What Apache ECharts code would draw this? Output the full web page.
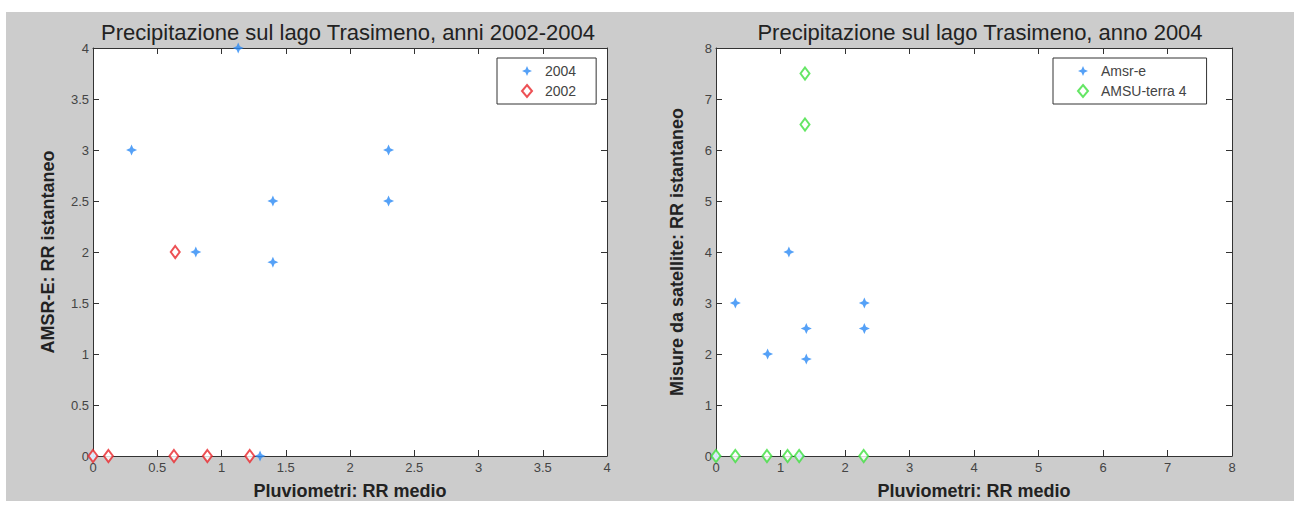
<!DOCTYPE html>
<html>
<head>
<meta charset="utf-8">
<script src="https://cdn.jsdelivr.net/npm/echarts@6/dist/echarts.min.js"></script>
<style>
html,body{margin:0;padding:0;background:#fff;width:1294px;height:507px;overflow:hidden;}
#bg{position:absolute;left:6px;top:12px;width:1288px;height:489px;background:#cccccc;}
#chart{position:absolute;left:0;top:0;width:1294px;height:507px;}
</style>
</head>
<body>
<div id="bg"></div>
<div id="chart"></div>
<script>
// Left panel: AMSR-E vs rain gauges
const leftTitle = 'Precipitazione sul lago Trasimeno, anni 2002-2004';
const leftYName = 'AMSR-E: RR istantaneo';
const xName = 'Pluviometri: RR medio';
const s2004 = [[0.3,3],[1.13,4],[2.3,3],[1.4,2.5],[2.3,2.5],[0.8,2],[1.4,1.9],[1.3,0],[0,0]];
const s2002 = [[0.64,2],[0,0],[0.12,0],[0.63,0],[0.89,0],[1.22,0]];
const leftXTicks = [0,0.5,1,1.5,2,2.5,3,3.5,4];

// Right panel: satellite measures, 2004
const rightTitle = 'Precipitazione sul lago Trasimeno, anno 2004';
const rightYName = 'Misure da satellite: RR istantaneo';
const sAmsr = [[0.3,3],[1.13,4],[2.3,3],[1.4,2.5],[2.3,2.5],[0.8,2],[1.4,1.9],[1.3,0],[0,0]];
const sAmsu = [[1.38,7.5],[1.38,6.5],[0,0],[0.3,0],[0.79,0],[1.11,0],[1.29,0],[2.29,0]];
const rightXTicks = [0,1,2,3,4,5,6,7,8];

const chart = echarts.init(document.getElementById('chart'), null, {renderer:'svg'});
const BLUE = '#2a8af5', RED = '#e8262a', GREEN = '#3fe03f';
const star = 'path://M0,-6 L1.8,-1.8 L6,0 L1.8,1.8 L0,6 L-1.8,1.8 L-6,0 L-1.8,-1.8 Z';
const FONT = 'Liberation Sans, Arial, sans-serif';
const lineStyle = {color:'#333', width:1};
const labelStyle = {color:'#444', fontSize:13, fontFamily:FONT};
const nameStyle = {color:'#222', fontSize:18, fontWeight:'bold', fontFamily:FONT};

function xAx(grid, max, interval, pos, show) {
  return {type:'value', gridIndex:grid, min:0, max:max, interval:interval, position:pos,
    name: show ? xName : '', nameLocation:'middle', nameGap:26, nameTextStyle:nameStyle,
    axisLine:{show:true, onZero:false, lineStyle:lineStyle},
    axisTick:{show:true, inside:true, length:6, lineStyle:lineStyle},
    axisLabel:{show:show, margin:5, ...labelStyle},
    splitLine:{show:false}};
}
function yAx(grid, max, interval, pos, name, show, gap) {
  return {type:'value', gridIndex:grid, min:0, max:max, interval:interval, position:pos,
    name: show ? name : '', nameLocation:'middle', nameGap:gap, nameRotate:90, nameTextStyle:nameStyle,
    axisLine:{show:true, onZero:false, lineStyle:lineStyle},
    axisTick:{show:true, inside:true, length:6, lineStyle:lineStyle},
    axisLabel:{show:show, margin:4, ...labelStyle},
    splitLine:{show:false}};
}
const hollow = (c) => ({color:'#fff', borderColor:c, borderWidth:2});
const legendBase = {orient:'vertical', top:58, itemGap:6, itemWidth:10, itemHeight:12,
  borderColor:'#333', borderWidth:1, backgroundColor:'#fff',
  textStyle:{color:'#444', fontSize:14, fontFamily:FONT, padding:[0,0,0,8]}};

chart.setOption({
  animation:false,
  backgroundColor:'transparent',
  title:[
    {text:leftTitle, left:343, top:16, textAlign:'center', textStyle:{color:'#222', fontSize:22, fontWeight:'normal', fontFamily:FONT}},
    {text:rightTitle, left:975, top:16, textAlign:'center', textStyle:{color:'#222', fontSize:22, fontWeight:'normal', fontFamily:FONT}}
  ],
  grid:[
    {left:93, top:48, width:514, height:408, show:true, backgroundColor:'#fff', borderWidth:0},
    {left:716, top:48, width:516, height:408, show:true, backgroundColor:'#fff', borderWidth:0}
  ],
  xAxis:[
    xAx(0,4,0.5,'bottom',true), xAx(0,4,0.5,'top',false),
    xAx(1,8,1,'bottom',true), xAx(1,8,1,'top',false)
  ],
  yAxis:[
    yAx(0,4,0.5,'left',leftYName,true,36), yAx(0,4,0.5,'right','',false,0),
    yAx(1,8,1,'left',rightYName,true,30), yAx(1,8,1,'right','',false,0)
  ],
  legend:[
    Object.assign({data:['2004','2002'], left:497, padding:[6,20,6,24]}, legendBase),
    Object.assign({data:['Amsr-e','AMSU-terra 4'], left:1053, padding:[6,20,6,24]}, legendBase)
  ],
  series:[
    {name:'2004', type:'scatter', xAxisIndex:0, yAxisIndex:0, data:s2004, symbol:star, symbolSize:11, itemStyle:{color:BLUE}, z:3},
    {name:'2002', type:'scatter', xAxisIndex:0, yAxisIndex:0, data:s2002, symbol:'diamond', symbolSize:[9,12], itemStyle:hollow(RED), z:4},
    {name:'Amsr-e', type:'scatter', xAxisIndex:2, yAxisIndex:2, data:sAmsr, symbol:star, symbolSize:11, itemStyle:{color:BLUE}, z:3},
    {name:'AMSU-terra 4', type:'scatter', xAxisIndex:2, yAxisIndex:2, data:sAmsu, symbol:'diamond', symbolSize:[9,12], itemStyle:hollow(GREEN), z:4}
  ]
});
</script>
</body>
</html>
